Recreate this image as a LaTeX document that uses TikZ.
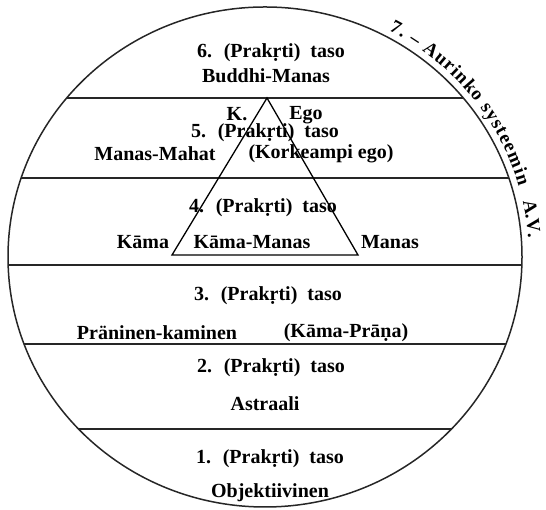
\documentclass[tikz,border=0pt]{standalone}
\usepackage{fontspec}
\setmainfont{Liberation Serif}
\usetikzlibrary{calc, decorations.text}

\begin{document}
\begin{tikzpicture}[
  x=1pt, y=1pt,
  lbl/.style={font=\fontsize{20}{22}\selectfont\bfseries, inner sep=0pt},
  plane/.style={line width=1.5pt, color=black!85},
  tri/.style={line width=1.3pt, line join=miter},
  arctext/.style 2 args={decorate, decoration={text along path, text align=#1, text={|\fontsize{19}{21}\selectfont\bfseries|#2}}},
]
  \useasboundingbox (0,0) rectangle (546,510);

  % The sphere and its planes
  \coordinate (ctr) at (265,253);
  \begin{scope}
    \clip (ctr) ellipse [x radius=257, y radius=250];
    \foreach \ly in {412,332,245,166,81}
      \draw[plane] (0,\ly) -- (546,\ly);
  \end{scope}
  \draw[plane] (ctr) ellipse [x radius=257, y radius=250];

  % Triangle
  \coordinate (apex) at (267,412);
  \coordinate (baseL) at (172,255);
  \coordinate (baseR) at (358,255);
  \draw[tri] (apex) -- (baseL) -- (baseR) -- cycle;

  % Plane 6
  \node[lbl] (p6) at (271,457) {6.~ (Prakṛti)~ taso};
  \node[lbl] (buddhi) at (266,434) {Buddhi-Manas};

  % Plane 5
  \node[lbl] (k) at (237,396) {K.};
  \node[lbl] (ego) at (306,395) {Ego};
  \node[lbl] (p5) at (265,377) {5.~ (Prakṛti)~ taso};
  \node[lbl] (mahat) at (155,356) {Manas-Mahat};
  \node[lbl] (higher) at (321,356) {(Korkeampi ego)};

  % Plane 4
  \node[lbl] (p4) at (263,302) {4.~ (Prakṛti)~ taso};
  \node[lbl] (kama) at (143,268) {Kāma};
  \node[lbl] (kamamanas) at (252,268) {Kāma-Manas};
  \node[lbl] (manas) at (390,268) {Manas};

  % Plane 3
  \node[lbl] (p3) at (268,214) {3.~ (Prakṛti)~ taso};
  \node[lbl] (pranic) at (157,177) {Präninen-kaminen};
  \node[lbl] (kamaprana) at (346,177) {(Kāma-Prāṇa)};

  % Plane 2
  \node[lbl] (p2) at (271,142) {2.~ (Prakṛti)~ taso};
  \node[lbl] (astral) at (265,106) {Astraali};

  % Plane 1
  \node[lbl] (p1) at (270,51) {1.~ (Prakṛti)~ taso};
  \node[lbl] (objective) at (270,17) {Objektiivinen};

  % Seventh plane, round the outside
  \path[arctext={fit to path}{7. – Aurinko systeemin}]
    ($(ctr)+(62:264 and 257)$) arc[start angle=62, end angle=16, x radius=264, y radius=257];
  \path[arctext={left}{A.V.}]
    ($(ctr)+(12.5:264 and 257)$) arc[start angle=12.5, end angle=0, x radius=264, y radius=257];
\end{tikzpicture}
\end{document}
